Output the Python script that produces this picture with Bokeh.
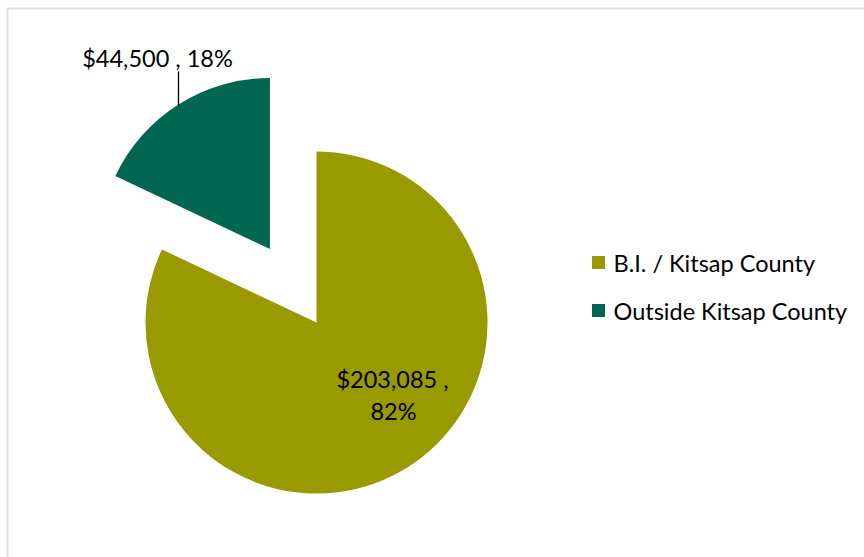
import math
from bokeh.plotting import figure
from bokeh.models import Range1d, BoxAnnotation, ColumnDataSource
from bokeh.core.properties import value
from bokeh.embed import file_html
from bokeh.resources import INLINE

# ---- data ----
categories = ["B.I. / Kitsap County", "Outside Kitsap County"]
amounts = [203085, 44500]
percents = ["82%", "18%"]
colors = ["#999900", "#006652"]

W, H = 864, 557
FONT = "Lato"
FS = "23.5px"

p = figure(width=W, height=H, output_backend="svg", toolbar_location=None,
           x_range=Range1d(0, W), y_range=Range1d(0, H), min_border=0)
p.axis.visible = False
p.grid.visible = False
p.outline_line_color = None
p.background_fill_color = "white"
p.border_fill_color = "white"

def Y(py):
    return H - py

# frame border
p.add_layout(BoxAnnotation(left=7, right=W + 20, top=Y(8), bottom=-20,
                           fill_alpha=0, line_color="#999999", line_width=2))

# pie geometry
cx, cy, r = 316, Y(322), 171
explode = 87
total = sum(amounts)
sweep0 = 2 * math.pi * amounts[0] / total
sweep1 = 2 * math.pi * amounts[1] / total
s0, e0 = math.pi / 2 - sweep0, math.pi / 2
s1, e1 = math.pi / 2, math.pi / 2 + sweep1
mid1 = (s1 + e1) / 2
xs = [cx, cx + explode * math.cos(mid1)]
ys = [cy, cy + explode * math.sin(mid1)]
src = ColumnDataSource(dict(x=xs, y=ys, start=[s0, s1], end=[e0, e1], color=colors))
p.wedge(x="x", y="y", radius=r, start_angle="start", end_angle="end",
        fill_color="color", line_color=None, source=src)

def money(v):
    return "${:,}".format(v)

# data labels
p.text(x=[157], y=[Y(57)], text=[money(amounts[1]) + " , " + percents[1]],
       text_font=value(FONT), text_font_size=FS, text_color="#000000",
       text_align="center", text_baseline="middle")
p.segment(x0=[178], y0=[Y(71)], x1=[178], y1=[Y(105)], line_color="#000000", line_width=1.3)
p.text(x=[392, 393], y=[Y(378), Y(410)], text=[money(amounts[0]) + " ,", percents[0]],
       text_font=value(FONT), text_font_size=FS, text_color="#000000",
       text_align="center", text_baseline="middle")

# legend
lx = [598, 598]
ly = [Y(262), Y(310)]
p.rect(x=lx, y=ly, width=13, height=13, fill_color=colors, line_color=None)
p.text(x=[613, 613], y=ly, text=categories, text_font=value(FONT), text_font_size=FS,
       text_color="#000000", text_align="left", text_baseline="middle")

open("out.html", "w").write(file_html(p, INLINE))
